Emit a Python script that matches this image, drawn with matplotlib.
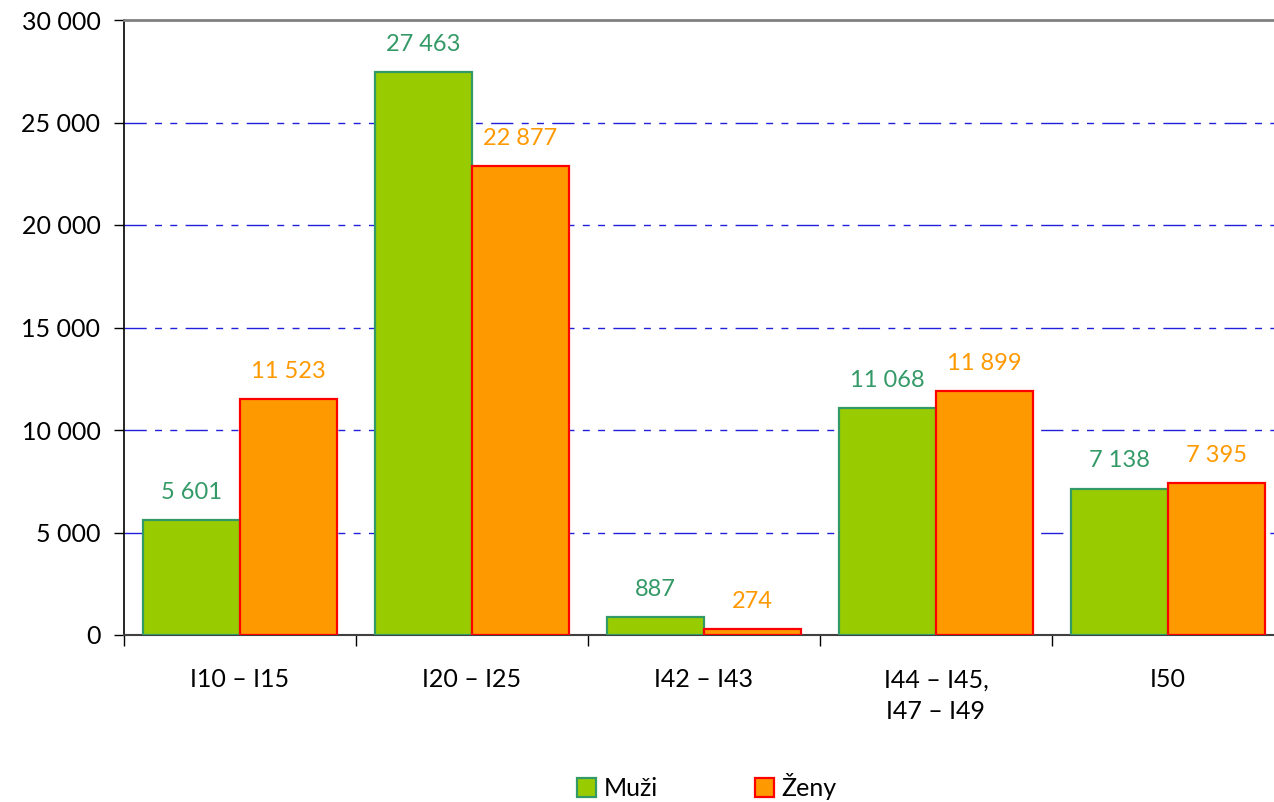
import matplotlib
matplotlib.use("Agg")
import matplotlib.pyplot as plt
import numpy as np

plt.rcParams["font.family"] = ["Lato", "DejaVu Sans"]

# data
categories = ["I10 – I15", "I20 – I25", "I42 – I43", "I44 – I45,\nI47 – I49", "I50"]
muzi = [5601, 27463, 887, 11068, 7138]
zeny = [11523, 22877, 274, 11899, 7395]
y_ticks = [0, 5000, 10000, 15000, 20000, 25000, 30000]


def fmt(v):
    # thousands separated by a space
    return f"{v:,}".replace(",", " ")


fig = plt.figure(figsize=(12.74, 8.02), dpi=100)
# axes runs a little past the right edge, like the source image
ax = fig.add_axes([124 / 1274, 1 - 635 / 802, 1160 / 1274, 615 / 802])

x = np.arange(len(categories))
w = 0.418

ax.bar(x - w / 2, muzi, width=w, color="#99CC00", edgecolor="#339966",
       linewidth=1.6, label="Muži", zorder=3)
ax.bar(x + w / 2, zeny, width=w, color="#FF9900", edgecolor="#FF0000",
       linewidth=1.6, label="Ženy", zorder=3)

for xi, m, z in zip(x, muzi, zeny):
    ax.annotate(fmt(m), (xi - w / 2, m), xytext=(0, 20), textcoords="offset points",
                ha="center", va="center", fontsize=17, color="#339966")
    ax.annotate(fmt(z), (xi + w / 2, z), xytext=(0, 20), textcoords="offset points",
                ha="center", va="center", fontsize=17, color="#FF9900")

ax.set_xlim(-0.5, 4.5)
ax.set_ylim(0, 30000)

# dash-dot-dot gridlines
for y in y_ticks[1:-1]:
    ax.axhline(y, color="#2020dc", linewidth=1.0, dashes=[16, 6, 5, 6, 5, 6], zorder=1)

ax.set_yticks(y_ticks)
ax.set_yticklabels([fmt(v) for v in y_ticks], fontsize=18)
ax.tick_params(axis="y", direction="out", length=7, width=1, pad=10)

# boundary ticks as major, labels on minor ticks at category centres
ax.set_xticks(np.arange(-0.5, 5.0, 1.0))
ax.set_xticklabels([])
ax.set_xticks(x, minor=True)
ax.set_xticklabels(categories, minor=True, fontsize=18, linespacing=1.45)
ax.tick_params(axis="x", which="major", direction="out", length=8, width=1)
ax.tick_params(axis="x", which="minor", length=0, pad=24)

ax.spines["right"].set_visible(False)
ax.spines["top"].set_color("#808080")
ax.spines["top"].set_linewidth(2)
ax.spines["left"].set_color("black")
ax.spines["left"].set_linewidth(1.2)
ax.spines["bottom"].set_color("#404040")
ax.spines["bottom"].set_linewidth(1.5)

fig.legend(loc="lower center", bbox_to_anchor=(0.555, -0.026), ncol=2, frameon=False,
           fontsize=18, handlelength=0.75, handleheight=0.75, handletextpad=0.3,
           columnspacing=3.9)

fig.savefig("out.png", dpi=100)
